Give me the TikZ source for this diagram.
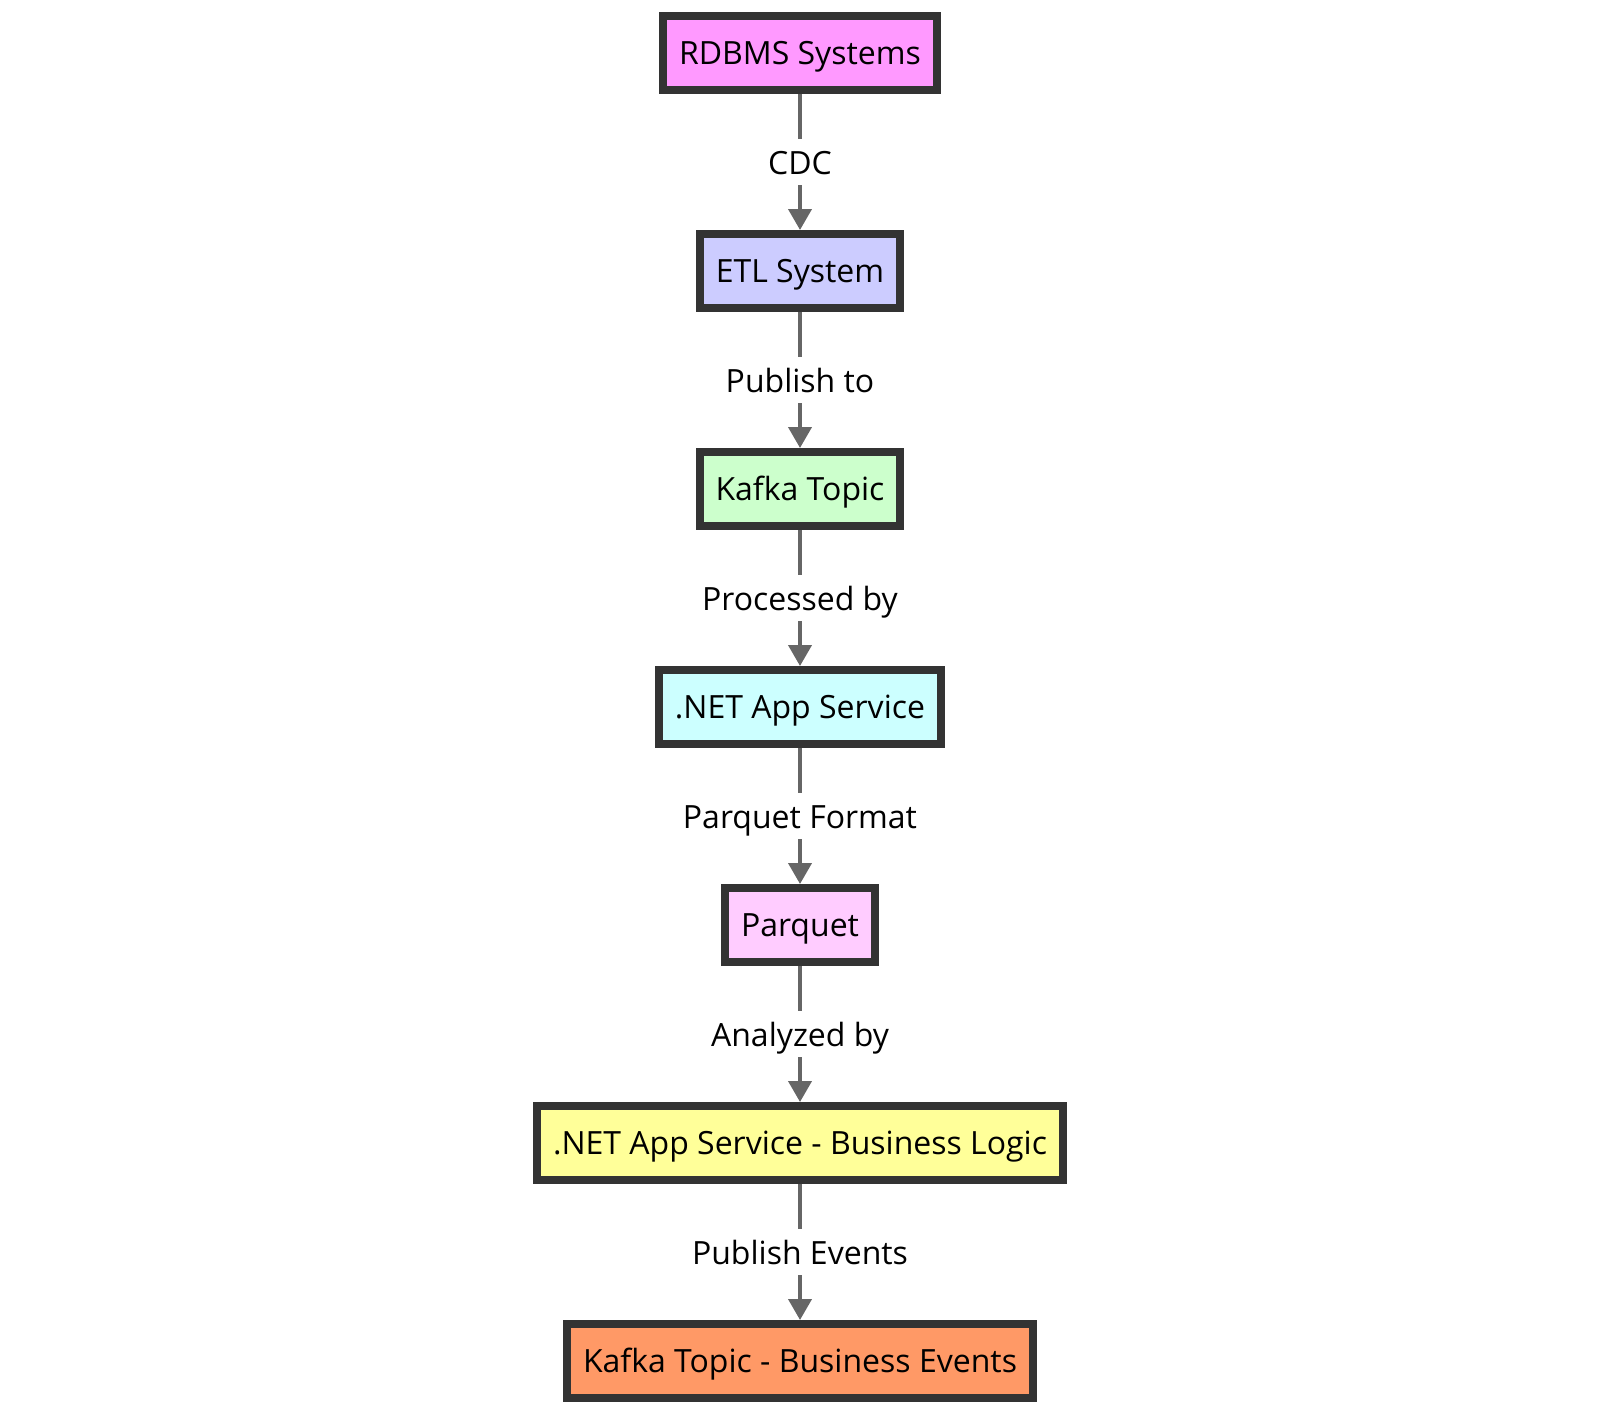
\documentclass[tikz,border=0pt]{standalone}
\usepackage{fontspec}
\setmainfont{Open Sans}
\usetikzlibrary{arrows.meta}
\definecolor{boxline}{HTML}{333333}
\definecolor{flowline}{HTML}{666666}
\definecolor{rdbmsfill}{HTML}{FF99FF}
\definecolor{etlfill}{HTML}{CCCCFF}
\definecolor{kafkafill}{HTML}{CCFFCC}
\definecolor{netfill}{HTML}{CCFFFF}
\definecolor{parquetfill}{HTML}{FFCCFF}
\definecolor{logicfill}{HTML}{FFFF99}
\definecolor{eventsfill}{HTML}{FF9966}
\tikzset{
    box/.style={draw=boxline, line width=4pt, inner xsep=8pt, minimum height=37pt,
        text height=15.4pt, text depth=4pt,
        font=\fontsize{16}{19}\selectfont},
    flow/.style={draw=flowline, line width=2pt, -{Triangle[width=11.5pt,length=10.5pt]}},
    lbl/.style={fill=white, inner xsep=2pt, inner ysep=0pt, text=black,
        text height=17.9pt, text depth=5pt,
        font=\fontsize{16}{19}\selectfont}
}
\begin{document}
\begin{tikzpicture}[x=0.5pt,y=-0.5pt]
    \useasboundingbox (0,0) rectangle (1600,1414);
    \node[box, fill=rdbmsfill] (rdbms) at (800,53) {RDBMS Systems};
    \node[box, fill=etlfill] (etl) at (800,271) {ETL System};
    \node[box, fill=kafkafill] (kafka) at (800,489) {Kafka Topic};
    \node[box, fill=netfill] (net) at (800,707) {.NET App Service};
    \node[box, fill=parquetfill] (parquet) at (800,925) {Parquet};
    \node[box, fill=logicfill] (logic) at (800,1143) {.NET App Service - Business Logic};
    \node[box, fill=eventsfill] (events) at (800,1361) {Kafka Topic - Business Events};
    \draw[flow] (rdbms) -- node[lbl] {CDC} (etl);
    \draw[flow] (etl) -- node[lbl] {Publish to} (kafka);
    \draw[flow] (kafka) -- node[lbl] {Processed by} (net);
    \draw[flow] (net) -- node[lbl] {Parquet Format} (parquet);
    \draw[flow] (parquet) -- node[lbl] {Analyzed by} (logic);
    \draw[flow] (logic) -- node[lbl] {Publish Events} (events);
\end{tikzpicture}
\end{document}
